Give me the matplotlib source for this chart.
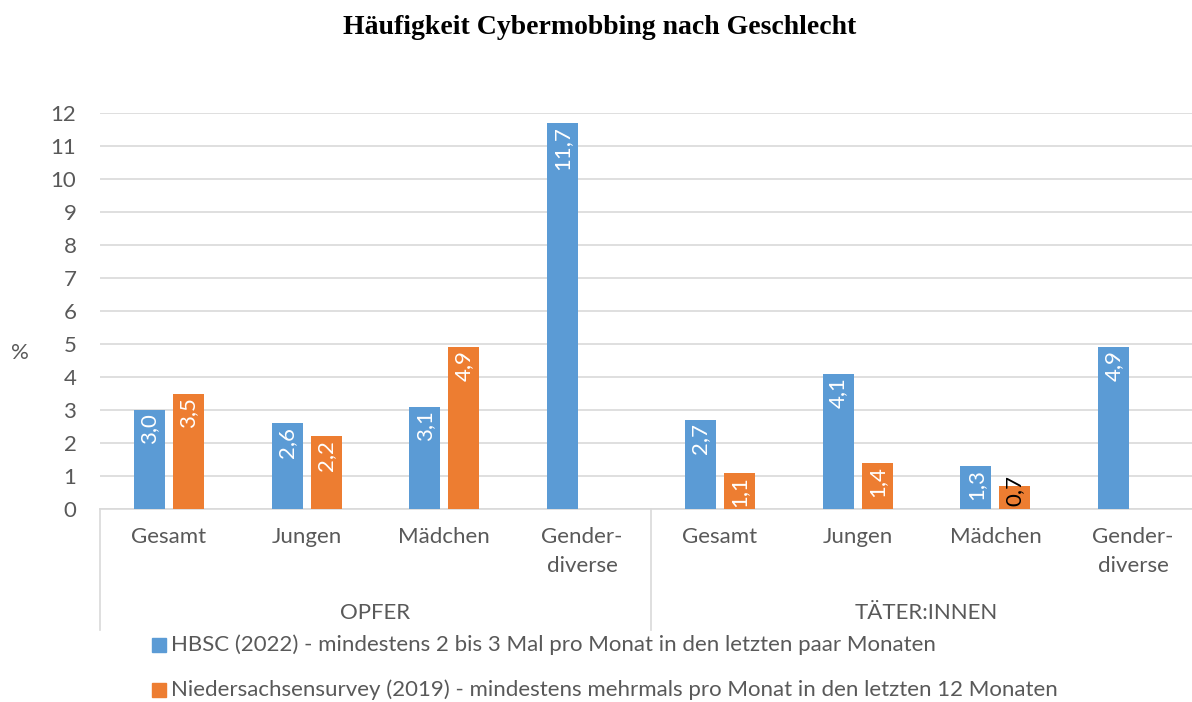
import numpy as np
import matplotlib.pyplot as plt
from matplotlib.patches import Rectangle

plt.rcParams['font.family'] = ['Lato', 'DejaVu Sans']

groups = ['OPFER', 'TÄTER:INNEN']
categories = ['Gesamt', 'Jungen', 'Mädchen', 'Gender-\ndiverse'] * 2
hbsc = [3.0, 2.6, 3.1, 11.7, 2.7, 4.1, 1.3, 4.9]
nds = [3.5, 2.2, 4.9, None, 1.1, 1.4, 0.7, None]
series_names = ['HBSC (2022) - mindestens 2 bis 3 Mal pro Monat in den letzten paar Monaten',
                'Niedersachsensurvey (2019) - mindestens mehrmals pro Monat in den letzten 12 Monaten']

blue = '#5B9BD5'
orange = '#ED7D31'
grey = '#595959'
gridc = '#D9D9D9'
fs = 16

W, H = 1192, 702
fig = plt.figure(figsize=(W / 100, H / 100), dpi=100)
ax = fig.add_axes([100 / W, (H - 509) / H, 1102 / W, 396 / H])

x = np.arange(len(categories))
bw = 0.225
off = 0.141

def fmt(v):
    return f'{v:.1f}'.replace('.', ',')

for i, v in enumerate(hbsc):
    ax.bar(x[i] - off, v, bw, color=blue, zorder=3)
    ax.text(x[i] - off, v - 0.1, fmt(v), rotation=90, ha='center', va='top',
            color='white', fontsize=fs, zorder=4)
for i, v in enumerate(nds):
    if v is None:
        continue
    ax.bar(x[i] + off, v, bw, color=orange, zorder=3)
    if v >= 1:
        ax.text(x[i] + off, v - 0.1, fmt(v), rotation=90, ha='center', va='top',
                color='white', fontsize=fs, zorder=4)
    else:
        ax.text(x[i] + off, v - 0.6, fmt(v), rotation=90, ha='center', va='bottom',
                color='black', fontsize=fs, zorder=4)

ax.set_xlim(-0.5, len(categories) - 0.5)
ax.set_ylim(0, 12)
ax.set_yticks(range(0, 13))
ax.yaxis.grid(True, color=gridc, linewidth=1.2, zorder=0)
ax.tick_params(axis='y', length=0, labelsize=fs, labelcolor=grey, pad=17)
ax.set_xticks([])
for s in ['left', 'right', 'top']:
    ax.spines[s].set_visible(False)
ax.spines['bottom'].set_color(gridc)
ax.spines['bottom'].set_linewidth(1.2)

tr = ax.get_xaxis_transform()
for i, c in enumerate(categories):
    ax.text(x[i], -0.045, c, transform=tr, ha='center', va='top',
            fontsize=fs, color=grey, linespacing=1.6)
for g, name in enumerate(groups):
    ax.text(g * 4 + 1.5, -0.262, name, transform=tr, ha='center', va='center',
            fontsize=fs, color=grey)
for xs in [-0.5, 3.5, 7.5]:
    ax.plot([xs, xs], [0, -0.305], transform=tr, color=gridc, linewidth=1.2,
            clip_on=False)

fig.text(20 / W, 1 - 353 / H, '%', ha='center', va='center',
         fontsize=fs, color=grey)

fig.text(600 / W, 1 - 27 / H, 'Häufigkeit Cybermobbing nach Geschlecht',
         ha='center', va='center', fontsize=20, fontweight='bold',
         family='Liberation Serif')

for k, (name, col) in enumerate(zip(series_names, [blue, orange])):
    yy = 645 + k * 45
    fig.patches.append(Rectangle((152 / W, 1 - (yy + 7) / H), 14 / W, 14 / H,
                                 transform=fig.transFigure, color=col))
    fig.text(171 / W, 1 - yy / H, name, ha='left', va='center',
             fontsize=fs, color=grey)

fig.savefig('out.png', dpi=100)
